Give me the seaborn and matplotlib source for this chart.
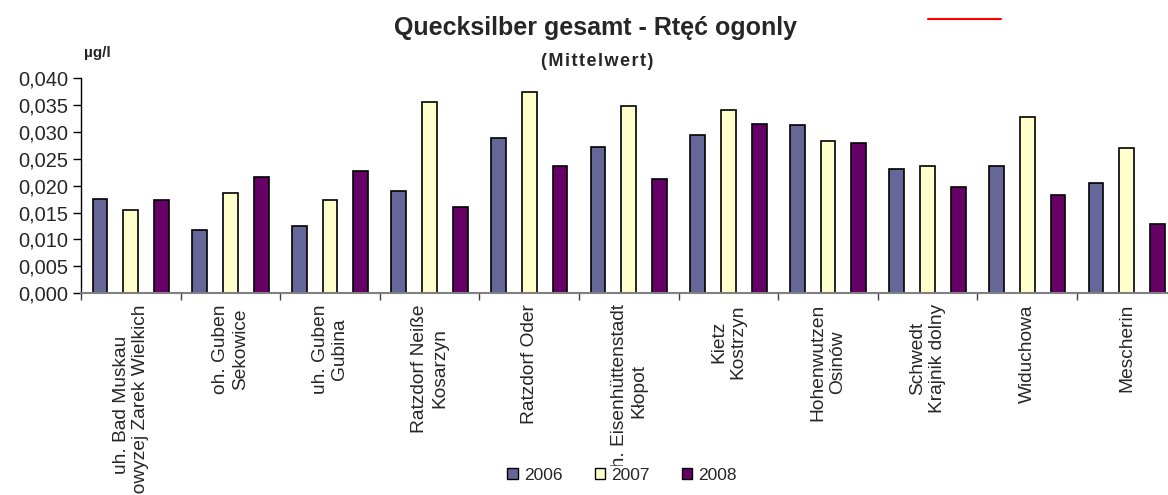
import numpy as np
import pandas as pd
import matplotlib
matplotlib.use("Agg")
import matplotlib.pyplot as plt
from matplotlib.patches import Patch
from matplotlib.lines import Line2D
from matplotlib.ticker import FuncFormatter, FixedLocator
import seaborn as sns

# Measuring stations (German / Polish names)
stations = [
    "uh. Bad Muskau\nPowyzej Zarek Wielkich",
    "oh. Guben\nSekowice",
    "uh. Guben\nGubina",
    "Ratzdorf Neiße\nKosarzyn",
    "Ratzdorf Oder",
    "oh. Eisenhüttenstadt\nKłopot",
    "Kietz\nKostrzyn",
    "Hohenwutzen\nOsinów",
    "Schwedt\nKrajnik dolny",
    "Widuchowa",
    "Mescherin",
]
years = ["2006", "2007", "2008"]

# Mean mercury concentration in µg/l
hg_2006 = [0.0176, 0.0118, 0.0125, 0.0191, 0.0289, 0.0273, 0.0295, 0.0313, 0.0232, 0.0237, 0.0206]
hg_2007 = [0.0155, 0.0186, 0.0173, 0.0356, 0.0374, 0.0349, 0.0341, 0.0283, 0.0237, 0.0329, 0.0271]
hg_2008 = [0.0173, 0.0216, 0.0228, 0.0161, 0.0237, 0.0213, 0.0316, 0.0280, 0.0198, 0.0183, 0.0128]

colors = {"2006": "#666699", "2007": "#FFFFCC", "2008": "#660066"}

df = pd.DataFrame({
    "station": stations * 3,
    "year": [y for y in years for _ in stations],
    "value": hg_2006 + hg_2007 + hg_2008,
})

sns.set_style("white")
plt.rcParams["font.family"] = ["Liberation Sans", "DejaVu Sans"]

fig = plt.figure(figsize=(11.68, 4.95), dpi=100)
ax = fig.add_axes([81 / 1168, 1 - 293 / 495, 1095.6 / 1168, 214.5 / 495])

sns.barplot(
    data=df, x="station", y="value", hue="year", order=stations, hue_order=years,
    palette=colors, saturation=1, width=0.93, gap=0.52, edgecolor="black",
    linewidth=1.2, legend=False, ax=ax, errorbar=None,
)

ax.set_xlim(-0.5, 10.5)
ax.set_ylim(0, 0.040)
ax.set_yticks(np.arange(0, 0.0401, 0.005))
ax.yaxis.set_major_formatter(FuncFormatter(lambda v, p: f"{v:.3f}".replace(".", ",")))
ax.set_xlabel("")
ax.set_ylabel("")

for side in ("top", "right"):
    ax.spines[side].set_visible(False)
ax.spines["left"].set_color("black")
ax.spines["left"].set_linewidth(1.0)
ax.spines["bottom"].set_color("#808080")
ax.spines["bottom"].set_linewidth(1.5)

ax.tick_params(axis="y", which="major", direction="out", length=6, width=1,
               color="black", labelsize=14.4, pad=3, left=True)
ax.xaxis.set_minor_locator(FixedLocator(np.arange(-0.5, 11, 1)))
ax.tick_params(axis="x", which="minor", direction="out", length=5, width=1,
               color="#404040", bottom=True)
ax.tick_params(axis="x", which="major", length=0, pad=8, labelsize=13.8)
plt.setp(ax.get_xticklabels(), rotation=90, ha="center", va="top",
         multialignment="center")

fig.text(595 / 1168, 1 - 28 / 495, "Quecksilber gesamt - Rtęć ogonly",
         ha="center", va="center", fontsize=18, fontweight="bold")
fig.text(597 / 1168, 1 - 62 / 495, "\u200a".join("(Mittelwert)"),
         ha="center", va="center", fontsize=13, fontweight="bold")
fig.text(84 / 1168, 1 - 53 / 495, "µg/l", ha="left", va="center",
         fontsize=11, fontweight="bold")

fig.add_artist(Line2D([928 / 1168, 1001 / 1168], [1 - 19 / 495] * 2,
                      color="red", lw=1.5))

handles = [Patch(facecolor=colors[y], edgecolor="black", linewidth=1.0) for y in years]
leg = fig.legend(handles, years, loc="center", bbox_to_anchor=(622 / 1168, 1 - 475 / 495),
                 ncol=3, frameon=True, fontsize=12.5, handlelength=0.6, handleheight=0.6,
                 handletextpad=0.35, columnspacing=1.85, borderpad=0.1,
                 fancybox=False)
leg.get_frame().set_facecolor("white")
leg.get_frame().set_edgecolor("none")
leg.get_frame().set_alpha(1.0)

fig.savefig("out.png", dpi=100)
